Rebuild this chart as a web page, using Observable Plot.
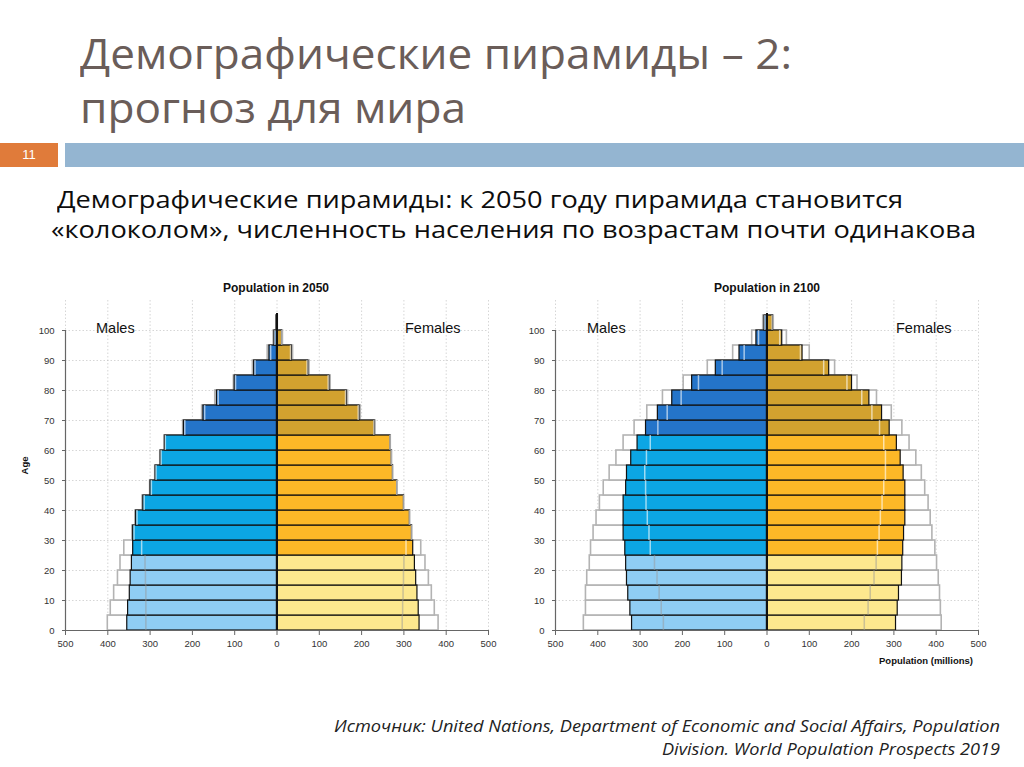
<!DOCTYPE html>
<html>
<head>
<meta charset="utf-8">
<script src="https://cdn.jsdelivr.net/npm/d3@7"></script>
<script src="https://cdn.jsdelivr.net/npm/@observablehq/plot@0.6"></script>
<style>
  html, body { margin:0; padding:0; background:#fff; }
  body { width:1024px; height:767px; position:relative; overflow:hidden; font-family:"Open Sans","Noto Sans",sans-serif; }
  .abs { position:absolute; white-space:nowrap; }
  .title { color:#6a5d59; font-size:42px; line-height:1; }
  .body { color:#0d0d0d; font-size:23px; line-height:1; }
  .src { color:#222; font-size:16px; font-style:italic; line-height:1; }
  .ctitle { font-family:"Liberation Sans",Arial,sans-serif; font-weight:bold; font-size:12px; color:#111; transform:translateX(-50%); }
  .sex { font-family:"Liberation Sans",Arial,sans-serif; font-size:14.5px; color:#111; }
  .small { font-family:"Liberation Sans",Arial,sans-serif; font-weight:bold; font-size:9.5px; color:#111; }
  .chart { position:absolute; }
</style>
</head>
<body>
<script>
// ---------- DATA ----------
const ageGroups = [0,5,10,15,20,25,30,35,40,45,50,55,60,65,70,75,80,85,90,95,100];

const males2050     = [354,352,348,346,343,340,340,333,316,299,287,275,265,220,174,142,100,54,18,6,1];
const males2050Hi   = [400,393,385,376,370,361,342,335,318,300,288,276,266,222,177,146,102,57,22,8,1];
const males2050Lo   = [310,310,310,311,312,320,338,331,314,297,286,274,264,218,171,139,98,52,15,5,1];
const females2050   = [337,335,332,329,326,322,319,314,300,284,274,271,268,231,195,165,124,74,35,12,2];
const females2050Hi = [382,373,366,359,351,341,320,315,301,285,275,272,269,233,198,168,127,77,38,14,2];
const females2050Lo = [296,297,298,299,300,305,318,313,299,283,273,270,267,229,192,162,121,71,32,11,1];

const males2100     = [319,323,328,331,333,335,339,339,339,333,331,321,306,286,258,224,177,121,65,25,6];
const males2100Hi   = [433,428,428,425,419,416,410,403,395,386,372,356,339,313,283,246,197,140,80,35,9];
const males2100Lo   = [245,250,255,260,266,276,279,283,286,287,289,285,276,258,236,203,162,106,54,20,5];
const females2100   = [305,309,312,319,320,322,324,327,327,327,323,316,307,290,272,242,201,147,84,36,14];
const females2100Hi = [413,411,409,406,402,398,391,387,382,374,366,353,337,320,295,260,214,161,101,47,16];
const females2100Lo = [230,239,244,253,258,261,265,268,272,276,280,280,276,266,248,224,189,134,79,30,12];

const xTicks = [-500,-400,-300,-200,-100,0,100,200,300,400,500];
const yTicks = [0,10,20,30,40,50,60,70,80,90,100];

const colors = {
  M: {young:"#8fcdf4", mid:"#0ca6e4", old:"#2474c9"},
  F: {young:"#fde88e", mid:"#fcb827", old:"#d2a22f"}
};

// ---------- HELPERS ----------
function band(a){ return a < 25 ? "young" : (a < 65 ? "mid" : "old"); }

function rowsFor(m, mHi, mLo, f, fHi, fLo){
  const rows = [];
  ageGroups.forEach((a,i)=>{
    rows.push({age:a, sex:"M", v:-m[i], hi:-mHi[i], lo:-mLo[i], band:band(a)});
    rows.push({age:a, sex:"F", v:f[i], hi:fHi[i], lo:fLo[i], band:band(a)});
  });
  return rows;
}

function pyramid(rows){
  return Plot.plot({
    width:500, height:400,
    marginLeft:65, marginRight:12, marginTop:30, marginBottom:40,
    x:{domain:[-500,500]},
    y:{domain:[0,110]},
    style:{fontFamily:"'Liberation Sans',Arial,sans-serif", fontSize:"9.5px", color:"#333", background:"transparent"},
    marks:[
      Plot.gridX(xTicks, {stroke:"#bbb", strokeOpacity:0.6, strokeDasharray:"1.5,2"}),
      Plot.gridY(yTicks, {stroke:"#bbb", strokeOpacity:0.6, strokeDasharray:"1.5,2"}),
      Plot.rect(rows, {x1:()=>0, x2:"hi", y1:"age", y2:d=>d.age+5, fill:"white", stroke:"#b3b3b3", strokeWidth:1.6}),
      Plot.rect(rows, {x1:()=>0, x2:"v", y1:"age", y2:d=>d.age+5, fill:d=>colors[d.sex][d.band], stroke:"#111", strokeWidth:1.2}),
      Plot.ruleX(rows, {x:"lo", y1:"age", y2:d=>d.age+5,
        stroke:d=>d.band==="young" ? "#9a9a9a" : "#ffffff",
        strokeOpacity:d=>d.band==="young" ? 0.5 : 0.6, strokeWidth:1.5}),
      Plot.ruleX([0], {y1:0, y2:105.7, stroke:"#111", strokeWidth:2}),
      Plot.ruleX([-500], {y1:0, y2:100, stroke:"#666", strokeWidth:1.2}),
      Plot.ruleY([0], {x1:-500, x2:500, stroke:"#666", strokeWidth:1.2}),
      Plot.axisY(yTicks, {tickSize:3, tickPadding:8, label:null, stroke:"#666"}),
      Plot.axisX(xTicks, {tickSize:5, tickPadding:5, label:null, tickFormat:d=>Math.abs(d), stroke:"#666"})
    ]
  });
}

function addText(txt, cls, left, top){
  const d = document.createElement("div");
  d.className = "abs " + cls;
  d.textContent = txt;
  d.style.left = left + "px";
  d.style.top = top + "px";
  document.body.appendChild(d);
  return d;
}
function fitWidth(el, w){
  const r = el.getBoundingClientRect().width;
  el.style.transformOrigin = "left top";
  el.style.transform = "scaleX(" + (w / r) + ")";
}

// ---------- PAGE ----------
const t1 = addText("Демографические пирамиды – 2:", "title", 80, 32);
const t2 = addText("прогноз для мира", "title", 80, 86);
fitWidth(t1, 712); fitWidth(t2, 386);

const num = document.createElement("div");
num.className = "abs";
Object.assign(num.style, {left:"0px", top:"143px", width:"58px", height:"24px", background:"#e07b3a",
  color:"#fff", fontFamily:"'Liberation Sans Narrow','Liberation Sans',sans-serif", fontSize:"13px", lineHeight:"24px", textAlign:"center"});
num.textContent = "11";
document.body.appendChild(num);
const bar = document.createElement("div");
bar.className = "abs";
Object.assign(bar.style, {left:"65px", top:"143px", width:"959px", height:"24px", background:"#94b5d1"});
document.body.appendChild(bar);

const b1 = addText("Демографические пирамиды: к 2050 году пирамида становится", "body", 57, 188);
const b2 = addText("«колоколом», численность населения по возрастам почти одинакова", "body", 51, 218);
fitWidth(b1, 846); fitWidth(b2, 925);

const c1 = document.createElement("div"); c1.className = "chart"; c1.style.left = "0px"; c1.style.top = "270px";
c1.appendChild(pyramid(rowsFor(males2050, males2050Hi, males2050Lo, females2050, females2050Hi, females2050Lo)));
document.body.appendChild(c1);
const c2 = document.createElement("div"); c2.className = "chart"; c2.style.left = "490px"; c2.style.top = "270px";
c2.appendChild(pyramid(rowsFor(males2100, males2100Hi, males2100Lo, females2100, females2100Hi, females2100Lo)));
document.body.appendChild(c2);

addText("Population in 2050", "ctitle", 276, 281);
addText("Population in 2100", "ctitle", 767, 281);
addText("Males", "sex", 96, 320);
addText("Females", "sex", 405, 320);
addText("Males", "sex", 587, 320);
addText("Females", "sex", 896, 320);
const age = addText("Age", "small", 16, 460);
age.style.transform = "rotate(-90deg)";
const pm = addText("Population (millions)", "small", 879, 655);

const s1 = addText("Источник: United Nations, Department of Economic and Social Affairs, Population", "src", 334, 718);
const s2 = addText("Division. World Population Prospects 2019", "src", 662, 741);
fitWidth(s1, 666); fitWidth(s2, 338);
</script>
</body>
</html>
